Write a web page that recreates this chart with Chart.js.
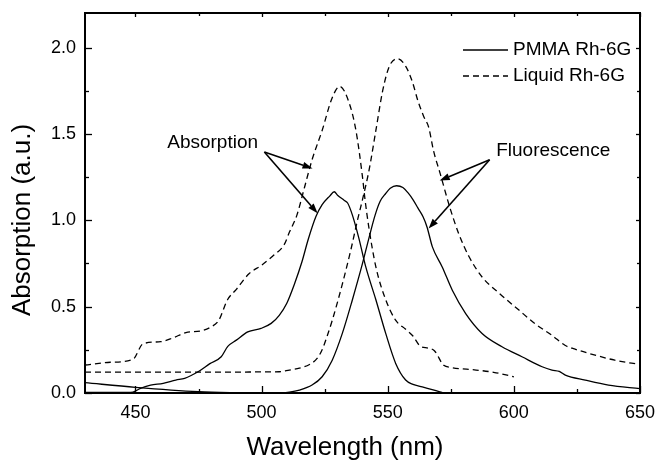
<!DOCTYPE html>
<html><head><meta charset="utf-8">
<script src="https://cdn.jsdelivr.net/npm/chart.js@4/dist/chart.umd.min.js"></script>
<style>html,body{margin:0;padding:0;background:#fff}</style>
</head><body>
<canvas id="c" width="658" height="460" style="width:658px;height:460px;display:block"></canvas>
<script>
// ---- data (wavelength nm, absorption a.u.) ----
const pmmaAbsX = [430,440,447,449,452,456,461,466,469.5,474.8,479.5,484,486.6,490,494.5,499.8,503.8,507,510,513,516,518.5,521.5,524,527,528.8,530.1,532.8,534.1,536,538.5,541.3,545.3,549.2,553.2,557.1,560,563.7,568,572];
const pmmaAbsY = [0.004,0.004,0.003,0.005,0.027,0.045,0.056,0.075,0.085,0.123,0.17,0.21,0.27,0.306,0.354,0.374,0.403,0.45,0.52,0.63,0.76,0.89,1.02,1.09,1.14,1.165,1.145,1.115,1.10,1.03,0.90,0.73,0.54,0.345,0.17,0.075,0.05,0.036,0.018,0.0];

const pmmaFluX = [430,450,475,490,500,507,511,515,520,524,528,532,536,540,542.6,545,547,549.2,551,553.5,556,558,560,562,564,565.6,567.7,571.6,575.6,580.9,587.4,595.3,603.2,611.2,615.1,618,620.4,628.3,637.5,650];
const pmmaFluY = [0.06,0.033,0.008,0.002,0.0,0.0,0.005,0.017,0.046,0.094,0.19,0.345,0.54,0.75,0.9,1.03,1.11,1.155,1.185,1.20,1.19,1.16,1.12,1.07,1.02,0.96,0.846,0.73,0.595,0.46,0.345,0.268,0.21,0.152,0.133,0.125,0.104,0.075,0.046,0.025];

const liqAbsX = [430,440,449,453,460,465,470,476,480,483,486.5,490,495,500,505,509,511,514,517,520,524,528,531,534.7,537.4,540,541,542.5,545.3,549.2,553.2,557,560,563,566,568.5,572.2,575,585,592,600];
const liqAbsY = [0.162,0.178,0.195,0.285,0.297,0.32,0.35,0.36,0.383,0.42,0.54,0.6,0.69,0.74,0.80,0.86,0.93,1.03,1.19,1.35,1.52,1.71,1.775,1.68,1.52,1.25,1.12,0.96,0.73,0.54,0.42,0.37,0.33,0.27,0.26,0.245,0.16,0.148,0.133,0.12,0.094];

const liqFluX = [430,450,470,490,500,507,511,515,519,522,524,526,528,532,535.4,538,540,542.6,545.3,548,550.6,553.8,557.2,559.8,562,564.3,566.2,568.2,570.8,574.5,578.2,582.2,587.5,594,602,608.5,615,620.4,624,629.6,640,650];
const liqFluY = [0.121,0.121,0.121,0.121,0.122,0.123,0.133,0.144,0.165,0.2,0.25,0.33,0.42,0.63,0.83,1.0,1.12,1.29,1.52,1.75,1.89,1.935,1.89,1.80,1.69,1.6,1.54,1.40,1.27,1.08,0.92,0.79,0.67,0.58,0.48,0.40,0.335,0.275,0.255,0.23,0.19,0.165];

const xTickValues = [450,500,550,600,650];
const xMinorTicks = [475,525,575,625];
const yTickValues = [0,0.5,1.0,1.5,2.0];
const yMinorTicks = [0.25,0.75,1.25,1.75];

const legendLabels = ['PMMA Rh-6G','Liquid Rh-6G'];
const xTitle = 'Wavelength (nm)';
const yTitle = 'Absorption (a.u.)';

// annotations in data units: label position, arrow start, arrow ends
const annotations = [
  {text:'Absorption', at:[480.6,1.45], from:[501.1,1.395], to:[[520.2,1.30],[522.2,1.04]]},
  {text:'Fluorescence', at:[615.6,1.405], from:[590.4,1.35], to:[[570.6,1.23],[566.2,0.952]]}
];

const FONT = "'Liberation Sans', Arial, Helvetica, sans-serif";
const pts = (xs, ys) => xs.map((x,i)=>({x:x, y:ys[i]}));
const solid = [];
const dashed = [6,4];

function ds(label, xs, ys, dash){
  return {label, data: pts(xs,ys), borderColor:'#000', borderWidth:1.3, borderDash:dash,
          pointRadius:0, fill:false, cubicInterpolationMode:'monotone'};
}

const framePlugin = {
  id:'frame',
  afterDraw(chart){
    const ctx = chart.ctx, a = chart.chartArea, xs = chart.scales.x, ys = chart.scales.y;
    ctx.save();
    ctx.strokeStyle = '#000';
    ctx.fillStyle = '#000';
    ctx.lineWidth = 1.3;
    // ticks
    const tx = (vals, lenB, lenT) => vals.forEach(v=>{
      const p = Math.round(xs.getPixelForValue(v))+0.5;
      ctx.beginPath(); ctx.moveTo(p,a.bottom); ctx.lineTo(p,a.bottom-lenB); ctx.stroke();
      ctx.beginPath(); ctx.moveTo(p,a.top); ctx.lineTo(p,a.top+lenT); ctx.stroke();
    });
    const ty = (vals, lenL, lenR) => vals.forEach(v=>{
      const p = Math.round(ys.getPixelForValue(v))+0.5;
      ctx.beginPath(); ctx.moveTo(a.left,p); ctx.lineTo(a.left+lenL,p); ctx.stroke();
      ctx.beginPath(); ctx.moveTo(a.right,p); ctx.lineTo(a.right-lenR,p); ctx.stroke();
    });
    tx(xTickValues,7,4); tx(xMinorTicks,4,3);
    ty(yTickValues,7,4); ty(yMinorTicks,4,3);
    // frame
    ctx.lineWidth = 2;
    ctx.strokeRect(a.left, a.top, a.right-a.left, a.bottom-a.top);

    // axis titles
    ctx.font = '26px ' + FONT;
    ctx.textAlign = 'center';
    ctx.textBaseline = 'middle';
    ctx.fillText(xTitle, a.left + 260, 448);
    ctx.save();
    ctx.translate(23, a.top + 207);
    ctx.rotate(-Math.PI/2);
    ctx.fillText(yTitle, 0, 0);
    ctx.restore();

    // legend
    ctx.lineWidth = 1.3;
    ctx.font = '19px ' + FONT;
    ctx.textBaseline = 'middle';
    ctx.textAlign = 'left';
    const lx0 = a.right - 177, lx1 = a.right - 132, tx0 = a.right - 127;
    const rows = [a.top + 37, a.top + 63];
    chart.data.datasets.slice(0,2).forEach((d,i)=>{
      ctx.setLineDash(i===0 ? solid : dashed);
      ctx.beginPath(); ctx.moveTo(lx0, rows[i]); ctx.lineTo(lx1, rows[i]); ctx.stroke();
      ctx.setLineDash([]);
      ctx.fillText(legendLabels[i], tx0, rows[i]);
    });

    // annotations
    ctx.lineWidth = 1.6;
    annotations.forEach(an=>{
      ctx.font = '19px ' + FONT;
      ctx.textAlign = 'center';
      ctx.fillText(an.text, xs.getPixelForValue(an.at[0]), ys.getPixelForValue(an.at[1]));
      const sx = xs.getPixelForValue(an.from[0]), sy = ys.getPixelForValue(an.from[1]);
      an.to.forEach(t=>{
        const ex = xs.getPixelForValue(t[0]), ey = ys.getPixelForValue(t[1]);
        const ang = Math.atan2(ey-sy, ex-sx);
        const L = 10, W = 3.5;
        const bx = ex - L*Math.cos(ang), by = ey - L*Math.sin(ang);
        ctx.beginPath(); ctx.moveTo(sx,sy); ctx.lineTo(bx,by); ctx.stroke();
        ctx.beginPath();
        ctx.moveTo(ex,ey);
        ctx.lineTo(bx + W*Math.sin(ang), by - W*Math.cos(ang));
        ctx.lineTo(bx - W*Math.sin(ang), by + W*Math.cos(ang));
        ctx.closePath(); ctx.fill();
      });
    });
    ctx.restore();
  }
};

new Chart(document.getElementById('c'), {
  type:'line',
  data:{ datasets:[
    ds('PMMA Rh-6G absorption', pmmaAbsX, pmmaAbsY, solid),
    ds('Liquid Rh-6G absorption', liqAbsX, liqAbsY, dashed),
    ds('PMMA Rh-6G fluorescence', pmmaFluX, pmmaFluY, solid),
    ds('Liquid Rh-6G fluorescence', liqFluX, liqFluY, dashed)
  ]},
  options:{
    responsive:false, animation:false, devicePixelRatio:1,
    layout:{padding:{top:13,right:18,left:0,bottom:0}},
    plugins:{legend:{display:false}, tooltip:{enabled:false}},
    scales:{
      x:{type:'linear', min:430, max:650,
         afterBuildTicks:s=>{s.ticks = xTickValues.map(v=>({value:v}));},
         afterFit:s=>{s.height = 67; s.paddingLeft = 0; s.paddingRight = 0;},
         grid:{display:false}, border:{display:false},
         ticks:{color:'#000', font:{size:18, family:FONT}, padding:1, maxRotation:0, autoSkip:false},
         title:{display:false}},
      y:{type:'linear', min:0, max:2.2,
         afterBuildTicks:s=>{s.ticks = yTickValues.map(v=>({value:v}));},
         afterFit:s=>{s.width = 85; s.paddingTop = 0; s.paddingBottom = 0;},
         grid:{display:false}, border:{display:false},
         ticks:{color:'#000', font:{size:18, family:FONT}, padding:1, autoSkip:false, callback:v=>Number(v).toFixed(1)},
         title:{display:false}}
    }
  },
  plugins:[framePlugin]
});
</script>
</body></html>
